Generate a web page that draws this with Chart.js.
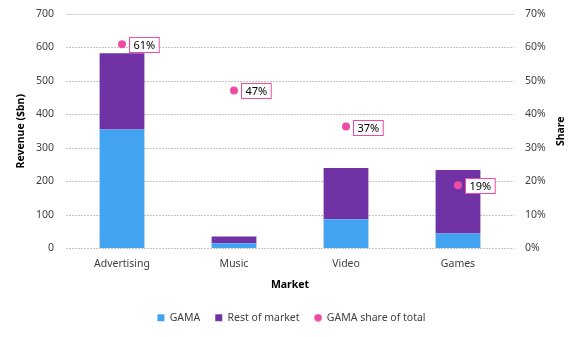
<!DOCTYPE html>
<html>
<head>
<meta charset="utf-8">
<script src="https://cdn.jsdelivr.net/npm/chart.js@4/dist/chart.umd.min.js"></script>
<style>
  html, body { margin: 0; padding: 0; background: #fff; }
  #wrap { width: 583px; height: 337px; }
</style>
</head>
<body>
<div id="wrap"><canvas id="chart" width="583" height="337"></canvas></div>
<script>
const markets = ['Advertising', 'Music', 'Video', 'Games'];
const gamaRevenue = [355, 16, 87, 45];
const restRevenue = [228, 20, 153, 189];
const gamaShare = [0.61, 0.472, 0.364, 0.189];
const shareLabels = ['61%', '47%', '37%', '19%'];
const revenueTicks = [0, 100, 200, 300, 400, 500, 600, 700];

const FONT = "'Noto Sans', sans-serif";
const FS = 10.5;
const TEXT = '#404040';
const PINK = '#ee4ba5';

// small round marker for the legend (the default circle is too big)
const legendDot = document.createElement('canvas');
legendDot.width = 8; legendDot.height = 8;
(() => {
  const c = legendDot.getContext('2d');
  c.fillStyle = PINK;
  c.beginPath(); c.arc(4, 4, 3.8, 0, Math.PI * 2); c.fill();
})();

// boxed percentage labels next to the share dots
const shareLabelPlugin = {
  id: 'shareLabels',
  afterDatasetsDraw(chart) {
    const meta = chart.getDatasetMeta(2);
    const ctx = chart.ctx;
    ctx.save();
    ctx.font = `11px ${FONT}`;
    ctx.textBaseline = 'middle';
    ctx.textAlign = 'center';
    meta.data.forEach((pt, i) => {
      const txt = shareLabels[i];
      const w = ctx.measureText(txt).width + 8;
      const x = Math.round(pt.x + 7) + 0.5;
      const y = Math.round(pt.y - 7) + 0.5;
      ctx.fillStyle = '#fff';
      ctx.fillRect(x, y, w, 15);
      ctx.strokeStyle = PINK;
      ctx.lineWidth = 1;
      ctx.strokeRect(x, y, w, 15);
      ctx.fillStyle = '#000';
      ctx.fillText(txt, x + w / 2, y + 8);
    });
    ctx.restore();
  }
};

// right axis title reads bottom-to-top like the left one
const shareTitlePlugin = {
  id: 'shareTitle',
  afterDraw(chart) {
    const ctx = chart.ctx;
    const a = chart.chartArea;
    ctx.save();
    ctx.translate(561, (a.top + a.bottom) / 2);
    ctx.rotate(-Math.PI / 2);
    ctx.font = `bold ${FS}px ${FONT}`;
    ctx.fillStyle = '#000';
    ctx.textAlign = 'center';
    ctx.textBaseline = 'middle';
    ctx.fillText('Share', 0, 0);
    ctx.restore();
  }
};

const noPad = (w) => (s) => { s.width = w; s.paddingTop = 0; s.paddingBottom = 0; };

new Chart(document.getElementById('chart'), {
  data: {
    labels: markets,
    datasets: [
      {
        type: 'bar', label: 'GAMA', data: gamaRevenue,
        backgroundColor: '#42a3f1', stack: 'rev', yAxisID: 'y', order: 2,
        categoryPercentage: 1, barPercentage: 0.4,
      },
      {
        type: 'bar', label: 'Rest of market', data: restRevenue,
        backgroundColor: '#7132a6', stack: 'rev', yAxisID: 'y', order: 2,
        categoryPercentage: 1, barPercentage: 0.4,
      },
      {
        type: 'line', label: 'GAMA share of total', data: gamaShare,
        yAxisID: 'y1', showLine: false, order: 1,
        pointRadius: 4, pointHoverRadius: 4, pointStyle: 'circle',
        backgroundColor: PINK, borderColor: PINK, borderWidth: 0,
      },
    ],
  },
  plugins: [shareLabelPlugin, shareTitlePlugin],
  options: {
    responsive: false,
    animation: false,
    layout: { autoPadding: false, padding: { top: 14, left: 0, right: 0, bottom: 4 } },
    plugins: {
      tooltip: { enabled: false },
      legend: {
        position: 'bottom',
        labels: {
          color: TEXT,
          font: { family: FONT, size: FS },
          boxWidth: 7, boxHeight: 7, padding: 15,
          usePointStyle: true,
          sort: (a, b) => a.datasetIndex - b.datasetIndex,
          generateLabels: (chart) => Chart.defaults.plugins.legend.labels.generateLabels(chart)
            .map(l => ({ ...l, pointStyle: l.datasetIndex === 2 ? legendDot : 'rect', lineWidth: 0 })),
        },
      },
    },
    scales: {
      x: {
        stacked: true,
        grid: { display: false },
        border: { display: false },
        ticks: { color: TEXT, font: { family: FONT, size: FS }, padding: 1 },
        title: { display: true, text: 'Market', color: '#000', font: { family: FONT, size: FS, weight: 'bold' }, padding: { top: 0, bottom: 6 } },
        afterFit: (s) => { s.height = 49; },
      },
      y: {
        stacked: true,
        min: 0, max: 700,
        afterBuildTicks: (s) => { s.ticks = revenueTicks.map(v => ({ value: v })); },
        grid: {
          drawTicks: false,
          color: (c) => c.tick && c.tick.value === 700 ? '#d9d9d9' : '#c9c3bb',
        },
        border: { display: false, dash: (c) => c.tick && c.tick.value === 700 ? [] : [2, 1] },
        ticks: { color: TEXT, font: { family: FONT, size: FS }, padding: 12 },
        title: { display: true, text: 'Revenue ($bn)', color: '#000', font: { family: FONT, size: FS, weight: 'bold' }, padding: { top: 15, bottom: 0 } },
        afterFit: noPad(66),
      },
      y1: {
        position: 'right',
        min: 0, max: 0.7,
        grid: { display: false, drawTicks: false },
        border: { display: false },
        ticks: {
          stepSize: 0.1,
          color: TEXT, font: { family: FONT, size: FS }, padding: 11,
          callback: (v) => Math.round(v * 100) + '%',
        },
        afterFit: noPad(69),
      },
    },
  },
});
</script>
</body>
</html>
